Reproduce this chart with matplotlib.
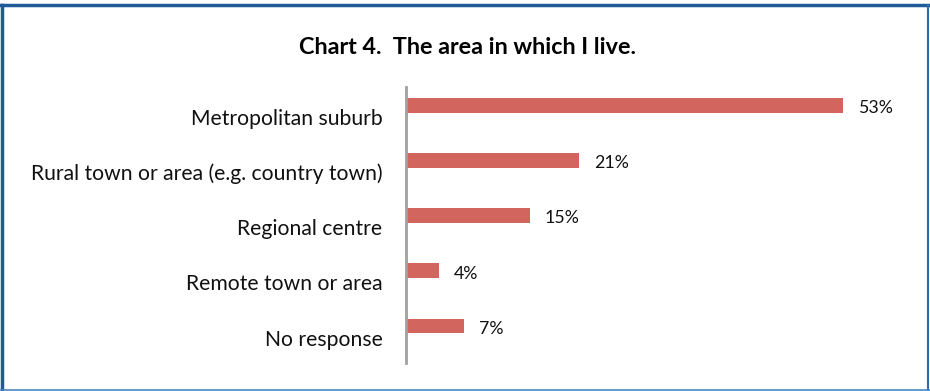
import matplotlib.pyplot as plt
from matplotlib.lines import Line2D
import numpy as np

# Survey responses, top to bottom as listed
areas = [
    'Metropolitan suburb',
    'Rural town or area (e.g. country town)',
    'Regional centre',
    'Remote town or area',
    'No response',
]
percent = [53, 21, 15, 4, 7]

bar_color = '#D2665F'
W, H = 930, 391

plt.rcParams['font.family'] = ['Lato', 'DejaVu Sans']

fig = plt.figure(figsize=(W / 100, H / 100), dpi=100)

# plot area in pixel terms: axis line at x=406, categories span y=87..363
px_per_pct = 8.245
xmax = 60
ax = fig.add_axes([406 / W, (H - 363) / H, xmax * px_per_pct / W, 276 / H])

pos = np.arange(len(areas))
bar_shift = -0.17  # bars sit a little above their labels
ax.barh(pos + bar_shift, percent, height=0.27, color=bar_color, edgecolor='none')

ax.set_xlim(0, xmax)
ax.set_ylim(len(areas) - 0.5, -0.5)
ax.set_yticks(pos + 0.04)
ax.set_yticklabels(areas, fontsize=15.2, color='#111111')
ax.tick_params(axis='y', length=0, pad=17)
ax.set_xticks([])

for s in ['top', 'right', 'bottom']:
    ax.spines[s].set_visible(False)
ax.spines['left'].set_color('#A0A0A0')
ax.spines['left'].set_linewidth(2)

for y, v in zip(pos + bar_shift, percent):
    ax.annotate('%d%%' % v, xy=(v, y), xytext=(11, -2),
                textcoords='offset points', va='center', ha='left',
                fontsize=12.8, color='#111111')

fig.text(467 / W, 1 - 47 / H, 'Chart 4.  The area in which I live.',
         ha='center', va='center', fontsize=16.8, fontweight='bold')

# frame around the chart
fig.add_artist(Line2D([0, 1], [1 - 4.5 / H] * 2, transform=fig.transFigure,
                      color='#1F5B99', lw=2.5))
fig.add_artist(Line2D([1.5 / W] * 2, [0, 1 - 4.5 / H], transform=fig.transFigure,
                      color='#1F5B99', lw=2.5))
fig.add_artist(Line2D([1 - 2.5 / W] * 2, [0, 1 - 4.5 / H], transform=fig.transFigure,
                      color='#2E6DAA', lw=1.5))
fig.add_artist(Line2D([0, 1], [1.2 / H] * 2, transform=fig.transFigure,
                      color='#4A86C0', lw=1.2))

fig.savefig('out.png', dpi=100)
